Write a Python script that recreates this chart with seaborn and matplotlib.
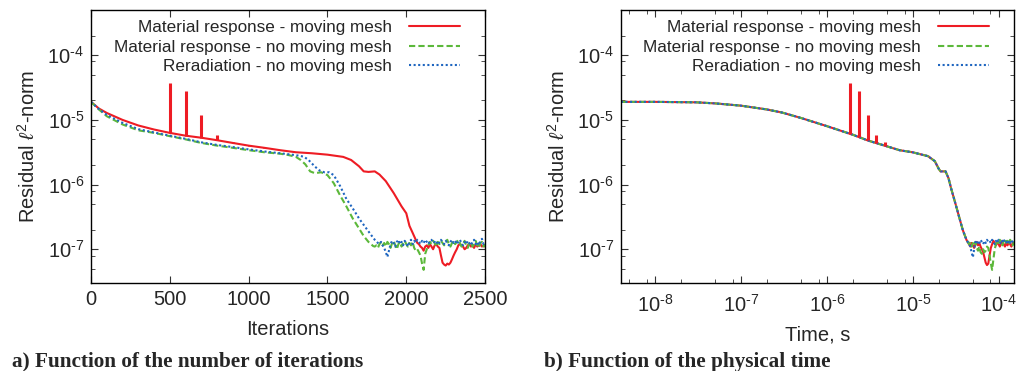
import numpy as np
import matplotlib
matplotlib.use("Agg")
import matplotlib.pyplot as plt
import matplotlib.ticker as mticker
import seaborn as sns

# ---- data ------------------------------------------------------------------
labels = ["Material response - moving mesh",
          "Material response - no moving mesh",
          "Reradiation - no moving mesh"]
colors = ["#ee1c24", "#5cb83a", "#1f66c0"]

# a) residual vs iterations (smooth part)
red_iter = [0, 50, 100, 200, 300, 400, 500, 600, 700, 800, 900, 1000, 1100, 1200, 1300,
            1400, 1500, 1600, 1650, 1700, 1730, 1760, 1800, 1830, 1870, 1920, 1970,
            2000, 2020, 2040, 2060, 2070]
red_res = [1.9e-5, 1.5e-5, 1.28e-5, 1.0e-5, 8.2e-6, 7.1e-6, 6.3e-6, 5.7e-6, 5.3e-6,
           4.85e-6, 4.4e-6, 4.0e-6, 3.7e-6, 3.4e-6, 3.16e-6, 3.05e-6, 2.9e-6, 2.68e-6,
           2.4e-6, 1.92e-6, 1.6e-6, 1.57e-6, 1.6e-6, 1.43e-6, 1.13e-6, 7.4e-7, 4.6e-7,
           3.6e-7, 2.3e-7, 1.8e-7, 1.4e-7, 1.25e-7]
green_iter = [0, 50, 100, 200, 300, 400, 500, 600, 700, 800, 900, 1000, 1100, 1200, 1250,
              1300, 1330, 1360, 1390, 1420, 1460, 1500, 1540, 1580, 1620, 1660, 1700,
              1730, 1760, 1790]
green_res = [1.9e-5, 1.45e-5, 1.14e-5, 8.5e-6, 6.9e-6, 6.3e-6, 5.6e-6, 5.0e-6, 4.4e-6,
             4.0e-6, 3.7e-6, 3.4e-6, 3.16e-6, 3.0e-6, 2.87e-6, 2.68e-6, 2.4e-6, 2.05e-6,
             1.6e-6, 1.5e-6, 1.55e-6, 1.4e-6, 1.05e-6, 6.8e-7, 4.6e-7, 3.0e-7, 2.1e-7,
             1.6e-7, 1.3e-7, 1.12e-7]
blue_iter = [0, 50, 100, 200, 300, 400, 500, 600, 700, 800, 900, 1000, 1100, 1200, 1300,
             1350, 1380, 1420, 1450, 1480, 1510, 1540, 1580, 1620, 1660, 1700, 1740,
             1770, 1800, 1820]
blue_res = [1.9e-5, 1.47e-5, 1.2e-5, 9.0e-6, 7.2e-6, 6.4e-6, 5.7e-6, 5.1e-6, 4.5e-6,
            4.1e-6, 3.8e-6, 3.5e-6, 3.25e-6, 3.05e-6, 2.85e-6, 2.7e-6, 2.4e-6, 1.9e-6,
            1.65e-6, 1.55e-6, 1.55e-6, 1.4e-6, 9.5e-7, 6.0e-7, 4.3e-7, 3.0e-7, 2.2e-7,
            1.75e-7, 1.4e-7, 1.25e-7]

# noisy tails, every 10 iterations, in units of 1e-7
red_tail_start = 2080
red_tail = [1.2, 1.1, 1.05, 0.95, 1.1, 1.15, 1.05, 1.2, 1.1, 1.0, 1.15, 1.2, 1.1, 1.05,
            0.8, 0.62, 0.58, 0.56, 0.6, 0.58, 0.62, 0.7, 0.8, 0.9, 1.0, 1.15, 1.2, 1.15,
            1.1, 1.0, 1.05, 1.15, 1.2, 1.1, 1.15, 1.05, 1.2, 1.1, 1.15, 1.2, 1.1, 1.15, 1.1]
green_tail_start = 1800
green_tail = [1.1, 1.15, 1.05, 1.2, 1.3, 1.15, 1.25, 1.1, 1.3, 1.2, 1.05, 1.25, 1.35, 1.15,
              1.0, 1.2, 1.3, 1.1, 1.25, 1.35, 1.2, 1.1, 1.25, 1.15, 1.3, 1.05, 0.95, 1.0,
              0.9, 0.8, 0.6, 0.48, 0.85, 1.0, 1.15, 1.3, 1.2, 1.35, 1.25, 1.1, 1.3, 1.2,
              1.35, 1.25, 1.15, 1.3, 1.4, 1.2, 1.1, 1.25, 1.35, 1.2, 1.3, 1.4, 1.25, 1.1,
              1.2, 1.35, 1.15, 1.05, 1.25, 1.3, 1.1, 1.2, 1.35, 1.15, 1.05, 1.25, 1.3, 1.1, 1.2]
blue_tail_start = 1830
blue_tail = [1.2, 1.3, 1.15, 1.05, 0.9, 0.76, 0.95, 1.2, 1.35, 1.25, 1.1, 1.3, 1.4, 1.2,
             1.3, 1.15, 1.35, 1.25, 1.1, 1.3, 1.4, 1.2, 1.35, 1.25, 1.4, 1.3, 1.2, 1.35,
             1.25, 1.4, 1.3, 1.2, 1.35, 1.4, 1.25, 1.3, 1.2, 1.35, 1.25, 1.4, 1.3, 1.2,
             1.35, 1.25, 1.15, 1.3, 1.4, 1.25, 1.35, 1.2, 1.3, 1.4, 1.25, 1.15, 1.3, 1.2,
             1.35, 1.25, 1.15, 1.3, 1.4, 1.2, 1.3, 1.15, 1.35, 1.45, 1.2, 1.3]

# restart spikes on the moving-mesh run
spike_iter = [500, 600, 700, 800, 900, 1000, 1100]
spike_base_a = [6.3e-6, 5.7e-6, 5.3e-6, 4.85e-6, 4.4e-6, 4.0e-6, 3.7e-6]
spike_peak_a = [3.7e-5, 2.8e-5, 1.2e-5, 5.8e-6, 4.6e-6, 4.1e-6, 3.8e-6]

# b) residual vs physical time (all three runs coincide until the floor)
time_s = [4e-9, 1e-8, 3e-8, 5e-8, 1e-7, 2e-7, 3e-7, 5e-7, 1e-6, 2e-6, 3e-6, 5e-6, 7e-6,
          1e-5, 1.5e-5, 1.8e-5, 2.0e-5, 2.1e-5, 2.4e-5, 2.6e-5, 2.8e-5, 3.1e-5, 3.4e-5,
          3.8e-5, 4.2e-5]
time_res = [1.9e-5, 1.9e-5, 1.87e-5, 1.8e-5, 1.66e-5, 1.45e-5, 1.3e-5, 1.07e-5, 8.0e-6,
            5.9e-6, 4.8e-6, 3.9e-6, 3.4e-6, 3.15e-6, 2.75e-6, 2.3e-6, 1.75e-6, 1.6e-6,
            1.6e-6, 1.25e-6, 8.5e-7, 5.3e-7, 3.4e-7, 2.0e-7, 1.4e-7]
tail_t0, tail_t1 = 4.5e-5, 1.5e-4
red_tail_t = [1.2, 1.1, 1.25, 1.15, 1.05, 1.2, 1.3, 1.15, 1.25, 1.1, 1.0, 0.9, 0.75, 0.62,
              0.57, 0.6, 0.8, 1.05, 1.2, 1.35, 1.25, 1.15, 1.3, 1.2, 1.1, 1.25, 1.35, 1.2,
              1.1, 1.25, 1.15, 1.3, 1.2, 1.1, 1.25, 1.2]
green_tail_t = [1.2, 1.3, 1.1, 1.25, 1.15, 1.3, 1.05, 0.95, 1.1, 0.9, 0.85, 1.0, 0.9, 0.95,
                1.1, 1.05, 0.8, 0.6, 0.48, 0.7, 1.0, 1.2, 1.35, 1.25, 1.4, 1.3, 1.15, 1.35,
                1.45, 1.25, 1.35, 1.2, 1.4, 1.3, 1.15, 1.3]
blue_tail_t = [1.2, 1.1, 0.9, 0.75, 1.0, 1.3, 1.2, 1.35, 1.25, 1.4, 1.3, 1.2, 1.35, 1.25,
               1.4, 1.3, 1.35, 1.25, 1.4, 1.3, 1.2, 1.35, 1.25, 1.4, 1.3, 1.2, 1.35, 1.45,
               1.25, 1.3, 1.2, 1.35, 1.25, 1.4, 1.3, 1.2]
spike_time = [1.87e-6, 2.33e-6, 2.97e-6, 3.75e-6, 4.75e-6]
spike_base_b = [6.0e-6, 5.5e-6, 4.9e-6, 4.4e-6, 4.0e-6]
spike_peak_b = [3.7e-5, 2.8e-5, 1.2e-5, 5.8e-6, 4.6e-6]

# ---- style ------------------------------------------------------------------
sns.set_style("ticks")
plt.rcParams["font.family"] = ["Liberation Sans", "DejaVu Sans"]
plt.rcParams["mathtext.fontset"] = "custom"
plt.rcParams["mathtext.rm"] = "Liberation Sans"
plt.rcParams["mathtext.it"] = "Liberation Sans:italic"
linestyles = ["-", (0, (3, 1.5)), (0, (1, 1.2))]
lw = 1.5


def tail(start, vals, step=10):
    return np.arange(start, start + step * len(vals), step), np.array(vals) * 1e-7


def pow10(v, pos):
    e = int(round(np.log10(v)))
    sign = r"\text{-}" if e < 0 else ""
    return r"$10^{%s%d}$" % (sign, abs(e))


def style_axis(ax):
    ax.set_yscale("log")
    ax.set_ylim(3e-8, 5e-4)
    ax.yaxis.set_minor_locator(mticker.LogLocator(base=10, subs=[2, 5, 8]))
    ax.yaxis.set_minor_formatter(mticker.NullFormatter())
    ax.set_yticks([1e-7, 1e-6, 1e-5, 1e-4])
    ax.yaxis.set_major_formatter(mticker.FuncFormatter(pow10))
    ax.tick_params(which="both", direction="in", top=True, right=True, labelsize=14.5,
                   color="#333333", pad=5)
    ax.tick_params(which="major", length=5, width=0.8)
    ax.tick_params(which="minor", length=3, width=0.6)
    for s in ax.spines.values():
        s.set_linewidth(1.0)
        s.set_color("black")
    ax.set_ylabel(r"Residual $\ell^2$-norm", fontsize=14.5, labelpad=6)
    ax.legend(loc="upper right", frameon=False, markerfirst=False, fontsize=12.3,
              handlelength=3.0, labelspacing=0.25, borderaxespad=0.2, handletextpad=1.0,
              bbox_to_anchor=(0.963, 1.0))


fig = plt.figure(figsize=(10.17, 3.71), dpi=100)
ax1 = fig.add_axes([0.0895, 0.237, 0.3875, 0.736])
ax2 = fig.add_axes([0.6105, 0.237, 0.3865, 0.736])

# a) iterations
mains = [(red_iter, red_res, red_tail_start, red_tail),
         (green_iter, green_res, green_tail_start, green_tail),
         (blue_iter, blue_res, blue_tail_start, blue_tail)]
for (xi, yi, ts, tv), c, ls, lab in zip(mains, colors, linestyles, labels):
    tx, ty = tail(ts, tv)
    x = np.concatenate([xi, tx])
    y = np.concatenate([yi, ty])
    sns.lineplot(x=x, y=y, ax=ax1, color=c, linestyle=ls, lw=lw, label=lab,
                 estimator=None, sort=False)
ax1.vlines(spike_iter, spike_base_a, spike_peak_a, color=colors[0], lw=2.2)
ax1.set_xlim(0, 2500)
ax1.xaxis.set_major_locator(mticker.MultipleLocator(500))
ax1.set_xlabel("Iterations", fontsize=14.5, labelpad=8)
style_axis(ax1)

# b) physical time
for tv, c, ls, lab in zip([red_tail_t, green_tail_t, blue_tail_t], colors, linestyles, labels):
    tt = np.geomspace(tail_t0, tail_t1, len(tv))
    x = np.concatenate([time_s, tt])
    y = np.concatenate([time_res, np.array(tv) * 1e-7])
    sns.lineplot(x=x, y=y, ax=ax2, color=c, linestyle=ls, lw=lw, label=lab,
                 estimator=None, sort=False)
ax2.vlines(spike_time, spike_base_b, spike_peak_b, color=colors[0], lw=2.2)
ax2.set_xscale("log")
ax2.set_xlim(4e-9, 1.5e-4)
ax2.xaxis.set_major_locator(mticker.LogLocator(base=10, subs=[1.0]))
ax2.xaxis.set_major_formatter(mticker.FuncFormatter(pow10))
ax2.xaxis.set_minor_locator(mticker.LogLocator(base=10, subs=[2, 5, 8]))
ax2.xaxis.set_minor_formatter(mticker.NullFormatter())
ax2.set_xlabel("Time, s", fontsize=14.5, labelpad=7)
style_axis(ax2)
ax2.tick_params(axis="x", which="major", pad=8)

cap = dict(fontsize=15.3, fontweight="bold", family=["Liberation Serif", "DejaVu Serif"])
fig.text(0.012, 0.012, "a) Function of the number of iterations", **cap)
fig.text(0.535, 0.012, "b) Function of the physical time", **cap)

fig.savefig("out.png", dpi=100)
